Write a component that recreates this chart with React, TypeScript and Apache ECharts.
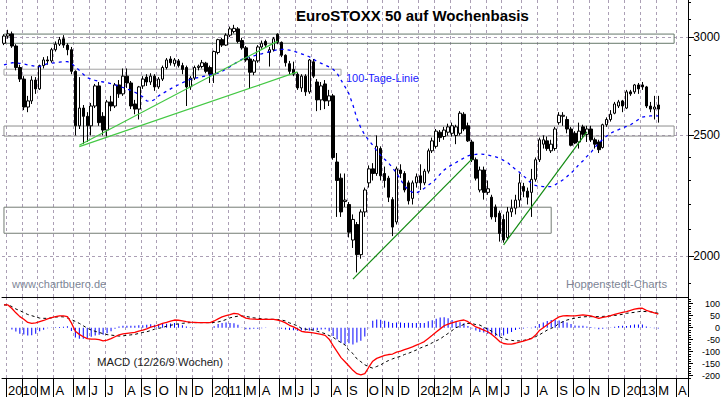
import React, { useEffect, useRef } from "react";
import * as echarts from "echarts";

// ---------- weekly OHLC (EuroSTOXX 50), index 0 = week ending 2009-12-31 ----------
const opens = [
  2965, 3005, 3017, 2950, 2835, 2775, 2635, 2665, 2770, 2725, 2845, 2875, 2870, 2930, 2960, 2990, 2955, 2930, 2815, 2545,
  2630, 2590, 2545, 2640, 2740, 2590, 2525, 2660, 2640, 2745, 2700, 2790, 2755, 2650, 2625, 2740, 2785, 2760, 2790, 2735,
  2775, 2835, 2880, 2855, 2870, 2845, 2835, 2735, 2780, 2835, 2840, 2858, 2835, 2800, 2915, 2985, 2955, 3010, 3030, 3045,
  2980, 2940, 2880, 2810, 2870, 2945, 2975, 2915, 2930, 3015, 2970, 2900, 2855, 2825, 2800, 2730, 2790, 2710, 2865, 2760,
  2670, 2750, 2665, 2690, 2380, 2310, 2212, 2200, 2060, 2120, 2005, 2170, 2290, 2350, 2330, 2440, 2330, 2310, 2220, 2130,
  2345, 2330, 2290, 2225, 2290, 2320, 2290, 2340, 2430, 2450, 2515, 2495, 2515, 2510, 2500, 2510, 2600, 2545, 2470, 2390,
  2260, 2345, 2250, 2230, 2190, 2165, 2140, 2070, 2170, 2185, 2218, 2275, 2255, 2250, 2305, 2390, 2460, 2475, 2430, 2440,
  2560, 2590, 2575, 2530, 2510, 2470, 2540, 2505, 2530, 2480, 2470, 2445, 2550, 2575, 2605, 2640, 2665, 2630, 2710, 2710,
  2745, 2745, 2735, 2640, 2625, 2645
];
const closes = [
  3005, 3017, 2950, 2835, 2775, 2635, 2665, 2770, 2725, 2845, 2875, 2870, 2930, 2960, 2985, 2955, 2930, 2815, 2545, 2630,
  2590, 2545, 2640, 2740, 2560, 2525, 2660, 2640, 2745, 2700, 2790, 2755, 2640, 2625, 2735, 2775, 2760, 2790, 2735, 2775,
  2835, 2875, 2860, 2875, 2845, 2825, 2735, 2780, 2835, 2842, 2860, 2815, 2800, 2920, 2985, 2955, 3010, 3045, 3048, 2975,
  2940, 2875, 2810, 2870, 2945, 2965, 2955, 2930, 2990, 2970, 2900, 2860, 2815, 2800, 2730, 2790, 2710, 2875, 2790, 2670,
  2740, 2665, 2690, 2400, 2300, 2170, 2218, 2090, 2140, 2005, 2170, 2260, 2350, 2330, 2450, 2320, 2300, 2230, 2110, 2350,
  2330, 2260, 2215, 2290, 2316, 2290, 2340, 2430, 2475, 2520, 2490, 2525, 2540, 2545, 2540, 2605, 2530, 2475, 2390, 2310,
  2345, 2250, 2265, 2150, 2150, 2085, 2060, 2170, 2185, 2218, 2290, 2255, 2230, 2305, 2390, 2480, 2480, 2440, 2460, 2530,
  2595, 2595, 2530, 2455, 2465, 2520, 2505, 2530, 2480, 2460, 2435, 2550, 2575, 2600, 2650, 2660, 2640, 2710, 2700, 2745,
  2725, 2735, 2640, 2625, 2635, 2625
];
const lows = [
  2955, 2990, 2940, 2820, 2760, 2620, 2610, 2650, 2700, 2720, 2830, 2850, 2860, 2920, 2950, 2940, 2900, 2800, 2500, 2530,
  2460, 2470, 2500, 2630, 2545, 2500, 2495, 2615, 2630, 2680, 2690, 2730, 2625, 2600, 2575, 2725, 2740, 2745, 2715, 2725,
  2765, 2825, 2845, 2840, 2835, 2800, 2640, 2720, 2770, 2820, 2830, 2805, 2755, 2755, 2905, 2945, 2950, 3000, 3020, 2965,
  2930, 2865, 2725, 2795, 2860, 2935, 2940, 2840, 2920, 2960, 2890, 2840, 2800, 2790, 2720, 2710, 2690, 2700, 2780, 2615,
  2620, 2625, 2640, 2390, 2150, 2150, 2190, 2070, 2030, 1940, 1990, 2150, 2270, 2300, 2320, 2300, 2270, 2210, 2075, 2120,
  2310, 2250, 2200, 2200, 2270, 2260, 2280, 2330, 2420, 2440, 2470, 2480, 2500, 2495, 2460, 2500, 2520, 2470, 2380, 2300,
  2250, 2220, 2240, 2140, 2130, 2054, 2050, 2060, 2150, 2160, 2190, 2230, 2200, 2150, 2295, 2380, 2440, 2430, 2420, 2430,
  2550, 2545, 2510, 2450, 2460, 2440, 2490, 2470, 2470, 2440, 2420, 2440, 2540, 2565, 2600, 2630, 2610, 2625, 2690, 2700,
  2700, 2720, 2630, 2610, 2575, 2560
];
const highs = [
  3015, 3040, 3030, 2960, 2850, 2790, 2690, 2790, 2785, 2850, 2890, 2895, 2940, 2975, 3000, 3010, 2965, 2945, 2820, 2785,
  2645, 2610, 2655, 2750, 2760, 2610, 2670, 2690, 2755, 2770, 2830, 2830, 2765, 2670, 2740, 2790, 2800, 2805, 2800, 2785,
  2845, 2885, 2895, 2885, 2880, 2860, 2845, 2790, 2845, 2850, 2875, 2865, 2845, 2925, 2990, 2995, 3020, 3058, 3068, 3055,
  2995, 2950, 2890, 2880, 2955, 2980, 2985, 2945, 3000, 3020, 2975, 2905, 2870, 2866, 2810, 2800, 2800, 2880, 2880, 2775,
  2760, 2770, 2720, 2700, 2420, 2330, 2330, 2210, 2160, 2130, 2180, 2270, 2365, 2375, 2500, 2450, 2360, 2320, 2230, 2360,
  2370, 2340, 2300, 2300, 2330, 2370, 2350, 2440, 2490, 2530, 2525, 2540, 2555, 2560, 2550, 2615, 2610, 2560, 2480, 2400,
  2360, 2360, 2300, 2240, 2200, 2175, 2160, 2190, 2220, 2240, 2330, 2290, 2270, 2350, 2400, 2490, 2500, 2495, 2480, 2540,
  2610, 2610, 2590, 2540, 2520, 2560, 2550, 2545, 2545, 2490, 2480, 2555, 2585, 2620, 2660, 2670, 2670, 2720, 2720, 2750,
  2755, 2760, 2740, 2660, 2690, 2690
];

// 100-Tage-Linie (blue dashed)
const ma100 = [
  2849, 2855, 2860, 2860, 2857, 2853, 2849, 2845, 2840, 2840, 2848, 2855, 2858, 2860, 2863, 2866, 2866, 2858, 2838, 2820,
  2800, 2782, 2775, 2768, 2763, 2760, 2756, 2752, 2746, 2738, 2732, 2725, 2718, 2708, 2698, 2685, 2665, 2662, 2672, 2690,
  2702, 2713, 2725, 2736, 2746, 2756, 2766, 2773, 2778, 2783, 2787, 2792, 2797, 2802, 2806, 2815, 2828, 2839, 2853, 2866,
  2878, 2887, 2893, 2897, 2902, 2908, 2913, 2919, 2925, 2930, 2932, 2931, 2928, 2922, 2915, 2908, 2900, 2892, 2880, 2866,
  2857, 2848, 2838, 2826, 2805, 2770, 2736, 2700, 2645, 2580, 2535, 2502, 2478, 2455, 2430, 2410, 2392, 2375, 2355, 2330,
  2305, 2276, 2262, 2250, 2248, 2256, 2267, 2280, 2292, 2308, 2327, 2345, 2358, 2368, 2378, 2388, 2398, 2407, 2412, 2414,
  2415, 2414, 2411, 2407, 2403, 2396, 2387, 2378, 2362, 2348, 2335, 2320, 2305, 2287, 2279, 2276, 2274, 2274, 2274, 2282,
  2292, 2303, 2317, 2332, 2348, 2370, 2385, 2405, 2422, 2445, 2465, 2482, 2497, 2510, 2520, 2527, 2535, 2542, 2550, 2562,
  2575, 2586, 2590, 2592, 2592, 2592
];

// MACD (12/26/9)
const macdLine = [
  95, 95, 80, 62, 46, 35, 22, 18, 20, 25, 30, 37, 42, 46, 49, 49, 46, 20, -15, -28,
  -38, -46, -48, -48, -50, -55, -52, -46, -38, -30, -26, -24, -22, -20, -14, -10, -5, 2, 6, 12,
  18, 22, 27, 32, 31, 28, 25, 23, 22, 21, 21, 21, 21, 28, 37, 45, 50, 54, 60, 58,
  48, 40, 37, 36, 35, 35, 35, 35, 35, 32, 27, 20, 10, 3, -5, -15, -18, -20, -22, -25,
  -28, -32, -48, -75, -100, -125, -142, -160, -178, -192, -197, -192, -165, -140, -128, -122, -116, -112, -110, -102,
  -98, -92, -86, -80, -73, -66, -58, -45, -32, -18, -5, 8, 15, 20, 25, 29, 32, 25, 14, 3,
  -3, -10, -17, -28, -42, -58, -66, -69, -69, -65, -60, -56, -51, -46, -32, -12, 0, 12, 24, 35,
  45, 49, 50, 49, 49, 51, 53, 51, 49, 44, 39, 43, 46, 50, 55, 60, 64, 67, 72, 77,
  80, 81, 72, 67, 62, 57
];
const signalLine = [
  95, 95, 88, 78, 71, 63, 55, 50, 45, 40, 39, 39, 41, 44, 46, 45, 40, 34, 26, 18,
  8, -2, -10, -15, -20, -25, -29, -31, -33, -35, -34, -32, -30, -28, -24, -20, -17, -12, -6, -3,
  1, 6, 10, 13, 16, 18, 20, 21, 21, 21, 21, 21, 21, 22, 24, 28, 34, 41, 45, 48,
  49, 47, 44, 41, 39, 37, 36, 35, 35, 34, 32, 28, 20, 14, 8, -3, -6, -8, -10, -15,
  -20, -25, -33, -40, -52, -62, -72, -95, -108, -130, -142, -155, -163, -169, -162, -155, -145, -137, -130, -124,
  -120, -112, -107, -100, -93, -85, -78, -72, -63, -55, -47, -35, -24, -12, 0, 6, 14, 18, 17, 13,
  11, 2, -6, -15, -25, -38, -45, -50, -53, -55, -55, -53, -50, -44, -38, -30, -20, -10, -3, 5,
  18, 25, 32, 36, 40, 43, 45, 46, 46, 46, 46, 47, 48, 49, 51, 53, 56, 60, 62, 64,
  67, 68, 67, 66, 64, 60
];
const macdHist = [
  0, 0, -8, -16, -25, -28, -33, -32, -25, -15, -9, -2, 1, 2, 3, 4, 6, -14, -41, -46,
  -46, -44, -38, -33, -30, -30, -23, -15, -5, 5, 8, 8, 8, 8, 10, 10, 12, 14, 12, 15,
  17, 16, 17, 19, 15, 10, 5, 2, 1, 0, 0, 0, 0, 6, 15, 20, 22, 20, 18, 12,
  -1, -7, -7, -5, -4, -2, -1, 0, 0, -2, -5, -8, -10, -11, -13, -12, -12, -12, -12, -10,
  -8, -7, -15, -35, -48, -63, -70, -65, -70, -62, -55, -37, -2, 29, 34, 33, 29, 25, 20, 22,
  22, 20, 21, 20, 20, 19, 20, 27, 31, 37, 42, 43, 39, 32, 25, 23, 18, 7, -3, -12,
  -18, -20, -25, -30, -35, -37, -33, -25, -18, -10, -5, -3, -1, -2, 6, 15, 22, 28, 32, 33,
  30, 28, 22, 15, 9, 8, 8, 5, 3, -2, -7, -4, -2, 1, 4, 7, 8, 7, 10, 13,
  13, 13, 5, 1, -2, -3
];

// axis ticks
const priceTicks = [2000, 2500, 3000];
const priceMinorTicks = [1900, 2000, 2100, 2200, 2300, 2400, 2500, 2600, 2700, 2800, 2900, 3000, 3100, 3200];
const macdTicks = [-200, -150, -100, -50, 0, 50, 100];
const macdMinorTicks = [-210, -200, -190, -180, -170, -160, -150, -140, -130, -120, -110, -100, -90, -80, -70, -60, -50,
  -40, -30, -20, -10, 0, 10, 20, 30, 40, 50, 60, 70, 80, 90, 100, 110, 120];
const monthLetters = ["", "", "", "M", "A", "M", "J", "J", "A", "S", "O", "N", "D"];

// annotations: zones (price levels) and trend lines (week, level)
const zoneStartWeek = ["2009-12-31", "2009-12-31", "2009-12-31", "2009-12-31"];
const zoneEndWeek = ["2013-03-29", "2011-08-19", "2013-03-29", "2012-08-24"];
const zoneLow = [2965, 2795, 2497, 2086];
const zoneHigh = [3016, 2826, 2544, 2189];
const trendStartWeek = ["2010-05-14", "2010-05-14", "2011-09-09", "2012-06-01"];
const trendStartLevel = [2455, 2449, 1916, 2042];
const trendEndWeek = ["2011-04-29", "2011-06-03", "2012-04-06", "2012-10-26"];
const trendEndLevel = [2977, 2812, 2393, 2517];

// weekly categories (week ending Friday; first week of 2010 ended on 2009-12-31)
const weeks: string[] = ["2009-12-31"];
for (let k = 0; k < 172; k++) {
  const d = new Date(Date.UTC(2010, 0, 8) + k * 7 * 86400000);
  weeks.push(d.toISOString().slice(0, 10));
}

const lg = (v: number) => Math.log10(v);
const isMonthStart = (i: number) => i > 0 && weeks[i].slice(5, 7) !== weeks[i - 1].slice(5, 7);

const FONT = 'Arial, "Liberation Sans", sans-serif';
const GRID_COLOR = "#ab9fb5";
const ZONE_COLORS = ["#66786a", "#a3a3a3", "#8e8e8e", "#747c74"];
const TREND_COLORS = ["#44c844", "#44c844", "#118a11", "#118a11"];

export default function App() {
  const ref = useRef<HTMLDivElement>(null);

  useEffect(() => {
    if (!ref.current) return;
    const chart = echarts.init(ref.current, undefined, { renderer: "svg" });

    const ohlc = opens.map((o, i) => [lg(o), lg(closes[i]), lg(lows[i]), lg(highs[i])]);
    const maLog = ma100.map(lg);

    const zoneData = zoneLow.map((lo, k) => [
      { coord: [zoneStartWeek[k], lg(zoneHigh[k])], itemStyle: { color: "rgba(0,0,0,0)", borderColor: ZONE_COLORS[k], borderWidth: 1 } },
      { coord: [zoneEndWeek[k], lg(lo)] },
    ]);
    const trendData = trendStartWeek.map((w, k) => [
      { coord: [w, lg(trendStartLevel[k])], lineStyle: { color: TREND_COLORS[k], width: 1.2, type: "solid" } },
      { coord: [trendEndWeek[k], lg(trendEndLevel[k])] },
    ]);

    const dashed = { color: GRID_COLOR, width: 1, type: [3, 3] as number[] };

    const option: any = {
      animation: false,
      backgroundColor: "#ffffff",
      textStyle: { fontFamily: FONT },
      grid: [
        { left: 2, right: 35, top: 0, height: 297 },
        { left: 2, right: 35, top: 297, height: 81 },
      ],
      xAxis: [
        {
          type: "category", gridIndex: 0, data: weeks, boundaryGap: true,
          axisLine: { show: true, onZero: false, lineStyle: { color: "#000", width: 1 } },
          axisTick: { show: false }, axisLabel: { show: false },
          splitLine: { show: true, interval: (i: number) => isMonthStart(i), lineStyle: dashed },
        },
        {
          type: "category", gridIndex: 1, data: weeks, boundaryGap: true, position: "bottom",
          axisLine: { show: true, onZero: false, lineStyle: { color: "#000", width: 1 } },
          axisTick: { show: true, interval: (i: number) => isMonthStart(i), length: 19, lineStyle: { color: "#000" } },
          axisLabel: {
            show: true, interval: (i: number) => isMonthStart(i), align: "left", margin: 6,
            fontSize: 13, color: "#000", fontFamily: FONT,
            formatter: (v: string) => {
              const m = +v.slice(5, 7);
              return m === 1 ? v.slice(0, 4) : monthLetters[m];
            },
          },
          splitLine: { show: true, interval: (i: number) => isMonthStart(i), lineStyle: dashed },
        },
      ],
      yAxis: [
        {
          type: "value", gridIndex: 0, position: "right", min: 3.26807, max: 3.50682, scale: true,
          axisLine: { show: true, lineStyle: { color: "#000" } },
          axisTick: { show: true, customValues: priceTicks.map(lg), length: 6, lineStyle: { color: "#000" } },
          axisLabel: {
            show: true, customValues: priceTicks.map(lg), align: "right", margin: 32,
            fontSize: 12, color: "#000", fontFamily: FONT,
            formatter: (v: number) => String(Math.round(Math.pow(10, v))),
          },
          splitLine: { show: true, lineStyle: dashed },
        },
        {
          type: "value", gridIndex: 0, position: "right", min: 3.26807, max: 3.50682, scale: true,
          axisLine: { show: false },
          axisTick: { show: true, customValues: priceMinorTicks.map(lg), length: 3, lineStyle: { color: "#000" } },
          axisLabel: { show: false }, splitLine: { show: false },
        },
        {
          type: "value", gridIndex: 1, position: "right", min: -210, max: 128,
          axisLine: { show: true, lineStyle: { color: "#000" } },
          axisTick: { show: true, customValues: macdTicks, length: 5, lineStyle: { color: "#000" } },
          axisLabel: {
            show: true, customValues: macdTicks, align: "right", margin: 32,
            fontSize: 9, color: "#000", fontFamily: FONT,
          },
          splitLine: { show: false },
        },
        {
          type: "value", gridIndex: 1, position: "right", min: -210, max: 128,
          axisLine: { show: false },
          axisTick: { show: true, customValues: macdMinorTicks, length: 3, lineStyle: { color: "#000" } },
          axisLabel: { show: false }, splitLine: { show: false },
        },
      ],
      series: [
        {
          type: "candlestick", name: "EuroSTOXX 50", xAxisIndex: 0, yAxisIndex: 0, data: ohlc, barWidth: 3, z: 3,
          itemStyle: { color: "#ffffff", color0: "#000000", borderColor: "#000000", borderColor0: "#000000", borderWidth: 1 },
          markArea: { silent: true, data: zoneData, label: { show: false } },
          markLine: { silent: true, symbol: ["none", "none"], label: { show: false }, data: trendData },
        },
        {
          type: "line", name: "100-Tage-Linie", xAxisIndex: 0, yAxisIndex: 0, data: maLog, showSymbol: false, z: 4,
          lineStyle: { color: "#0000ff", width: 1.3, type: [3, 4] },
        },
        {
          type: "bar", name: "Histogramm", xAxisIndex: 1, yAxisIndex: 2, data: macdHist, barWidth: 1, z: 2,
          itemStyle: { color: "#0000ff" },
        },
        {
          type: "line", name: "MACD", xAxisIndex: 1, yAxisIndex: 2, data: macdLine, showSymbol: false, z: 4,
          lineStyle: { color: "#ff0000", width: 1.3 },
        },
        {
          type: "line", name: "Signal", xAxisIndex: 1, yAxisIndex: 2, data: signalLine, showSymbol: false, z: 3,
          lineStyle: { color: "#000000", width: 1, type: [3, 3] },
        },
      ],
      graphic: [
        { type: "text", left: 296, top: 8, style: { text: "EuroSTOXX 50 auf Wochenbasis", font: `bold 15px ${FONT}`, fill: "#000" }, z: 10 },
        { type: "text", left: 346, top: 72, style: { text: "100-Tage-Linie", font: `11px ${FONT}`, fill: "#1a1aff" }, z: 10 },
        { type: "text", left: 12, top: 278, style: { text: "www.chartbuero.de", font: `11px ${FONT}`, fill: "#7d8696" }, z: 10 },
        { type: "text", left: 566, top: 278, style: { text: "Hoppenstedt-Charts", font: `11.3px ${FONT}`, fill: "#7d8696" }, z: 10 },
        { type: "text", left: 97, top: 356, style: { text: "MACD (12/26/9 Wochen)", font: `11.3px ${FONT}`, fill: "#222" }, z: 10 },
      ],
    };

    chart.setOption(option);
    return () => chart.dispose();
  }, []);

  return <div ref={ref} style={{ position: "fixed", left: 0, top: 0, width: 723, height: 397, background: "#fff" }} />;
}
